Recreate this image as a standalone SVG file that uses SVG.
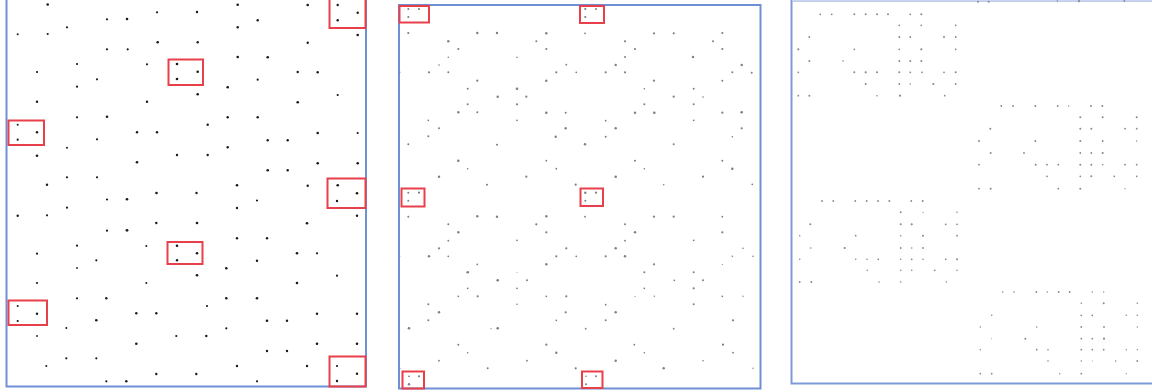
<svg xmlns="http://www.w3.org/2000/svg" width="1152" height="392" viewBox="0 0 1152 392">
<style>
.frame{fill:none;stroke:#6f8fd6;stroke-width:2}
.sel{fill:none;stroke:#e8404a;stroke-width:2}
.d1 circle{fill:#1a1a1a}
.d2 circle{fill:#7f7f7f}
.d3 circle{fill:#8a8a8a}
</style>
<rect width="1152" height="392" fill="#ffffff"/>
<g id="panel1">
<path class="frame" d="M6.5,0 V386.5 H366 V0"/>
<g class="d1">
<circle cx="47.7" cy="4.5" r="1.3"/><circle cx="237.7" cy="4.7" r="1.3"/><circle cx="307.7" cy="5" r="1.3"/><circle cx="337.7" cy="5" r="1.2"/>
<circle cx="357.7" cy="12.7" r="1.2"/><circle cx="337.7" cy="20.3" r="1.2"/><circle cx="107" cy="19.3" r="1.1"/><circle cx="127" cy="19" r="1.3"/>
<circle cx="157" cy="12.3" r="1.1"/><circle cx="197" cy="12" r="1.2"/><circle cx="257.7" cy="20.3" r="1.2"/><circle cx="67" cy="27.3" r="1.1"/>
<circle cx="237.7" cy="27.3" r="1.2"/><circle cx="17.7" cy="34.3" r="1"/><circle cx="47.7" cy="34" r="1.1"/><circle cx="357.7" cy="35" r="1.3"/>
<circle cx="157.7" cy="42.3" r="1.3"/><circle cx="197.7" cy="42.3" r="1.2"/><circle cx="307.7" cy="42.7" r="1.2"/><circle cx="107" cy="49.3" r="1.1"/>
<circle cx="127.7" cy="49.3" r="1.1"/><circle cx="237.7" cy="57" r="1.3"/><circle cx="267.7" cy="57.3" r="1.3"/><circle cx="77" cy="64" r="1.1"/>
<circle cx="147" cy="64.3" r="1.1"/><circle cx="177" cy="64" r="1.3"/><circle cx="197.7" cy="71.7" r="1.3"/><circle cx="177" cy="79" r="1.3"/>
<circle cx="37" cy="72" r="1.1"/><circle cx="97" cy="79.3" r="1.1"/><circle cx="297.7" cy="72" r="1.2"/><circle cx="317.7" cy="72.3" r="1.2"/>
<circle cx="257.7" cy="79.7" r="1.1"/><circle cx="77" cy="86.7" r="1.1"/><circle cx="227.7" cy="87.3" r="1.3"/><circle cx="197.7" cy="94.3" r="1.3"/>
<circle cx="337.7" cy="95" r="1.1"/><circle cx="37" cy="101.7" r="1.2"/><circle cx="147" cy="101.7" r="1.2"/><circle cx="297.7" cy="102.3" r="1.3"/>
<circle cx="77" cy="117.3" r="1.1"/><circle cx="107" cy="116.7" r="1.3"/><circle cx="227.7" cy="117.3" r="1.2"/><circle cx="257.7" cy="117.3" r="1.2"/>
<circle cx="17.7" cy="124.7" r="1"/><circle cx="207.7" cy="124.7" r="1.2"/><circle cx="37" cy="132.3" r="1.2"/><circle cx="137" cy="132.3" r="1.2"/>
<circle cx="157" cy="132.3" r="1.2"/><circle cx="317.7" cy="133" r="1.3"/><circle cx="357.7" cy="133" r="1.1"/><circle cx="17.7" cy="139.7" r="1.1"/>
<circle cx="97" cy="139.3" r="1.1"/><circle cx="267.7" cy="140.3" r="1.2"/><circle cx="287.7" cy="140.3" r="1.2"/><circle cx="67" cy="147.7" r="1"/>
<circle cx="227.7" cy="147.3" r="1.2"/><circle cx="37" cy="155.7" r="1.3"/><circle cx="177" cy="155" r="1.2"/><circle cx="207.7" cy="155" r="1.2"/>
<circle cx="137" cy="162.3" r="1.3"/><circle cx="317.7" cy="163.3" r="1.3"/><circle cx="357.7" cy="163.3" r="1.3"/><circle cx="267.7" cy="170.3" r="1.3"/>
<circle cx="287.7" cy="170.3" r="1.2"/><circle cx="67" cy="177.3" r="1.1"/><circle cx="97" cy="177.3" r="1.1"/><circle cx="47" cy="184.7" r="1.2"/>
<circle cx="237" cy="185.3" r="1.3"/><circle cx="307.7" cy="185.7" r="1.2"/><circle cx="337.7" cy="185.3" r="1.3"/>
<circle cx="156.5" cy="193" r="1.3"/><circle cx="196.5" cy="193" r="1.2"/><circle cx="357" cy="193.3" r="1.3"/><circle cx="107" cy="199.5" r="1.1"/>
<circle cx="127" cy="199.3" r="1.3"/><circle cx="257" cy="200.5" r="1.1"/><circle cx="337" cy="201" r="1.2"/>
<circle cx="67" cy="207.7" r="1.1"/><circle cx="237" cy="208" r="1.2"/><circle cx="17.7" cy="215.7" r="1.2"/><circle cx="47" cy="215.3" r="1.1"/>
<circle cx="357" cy="215.7" r="1.2"/><circle cx="156.3" cy="223" r="1.2"/><circle cx="197" cy="223" r="1.3"/><circle cx="307" cy="223.3" r="1.3"/>
<circle cx="107" cy="230.7" r="1.1"/><circle cx="127" cy="230.3" r="1.4"/><circle cx="237" cy="238.3" r="1.2"/><circle cx="267" cy="238.3" r="1.2"/>
<circle cx="77" cy="245.7" r="1.1"/><circle cx="146.3" cy="246" r="1"/><circle cx="177" cy="245.7" r="1.3"/><circle cx="197" cy="253.3" r="1.3"/>
<circle cx="177" cy="260.3" r="1.2"/><circle cx="37" cy="253.7" r="1.1"/><circle cx="96.3" cy="260.3" r="1.1"/><circle cx="297" cy="253.3" r="1.3"/>
<circle cx="317" cy="253.3" r="1.1"/><circle cx="257" cy="260.7" r="1.2"/><circle cx="77" cy="268" r="0.9"/><circle cx="226.3" cy="268.3" r="1.3"/>
<circle cx="197" cy="275.3" r="1.3"/><circle cx="337" cy="275.7" r="1.1"/><circle cx="37" cy="283" r="1.1"/><circle cx="146.3" cy="283" r="1"/>
<circle cx="297" cy="283" r="1.3"/><circle cx="77" cy="298.3" r="1.1"/><circle cx="106.3" cy="298.3" r="1.2"/><circle cx="226.3" cy="298.3" r="1.3"/>
<circle cx="257" cy="298.3" r="1.3"/><circle cx="17.7" cy="306" r="1"/><circle cx="37" cy="313.7" r="1.2"/><circle cx="17.7" cy="321" r="1.1"/>
<circle cx="207" cy="306" r="1.1"/><circle cx="136.3" cy="313.3" r="1.2"/><circle cx="156.3" cy="313.3" r="1.2"/><circle cx="317" cy="313.7" r="1.2"/>
<circle cx="357" cy="313.7" r="1.2"/><circle cx="96.3" cy="320.3" r="1.3"/><circle cx="267" cy="320.7" r="1.3"/><circle cx="287" cy="320.7" r="1.2"/>
<circle cx="66.3" cy="328" r="1"/><circle cx="226.3" cy="328.3" r="1.1"/><circle cx="37" cy="336" r="0.9"/><circle cx="176.3" cy="336" r="1.1"/>
<circle cx="206.3" cy="336" r="1.2"/><circle cx="136.3" cy="343.7" r="1.3"/><circle cx="317" cy="343.7" r="1.3"/><circle cx="357" cy="343.7" r="1.3"/>
<circle cx="267" cy="351" r="1.2"/><circle cx="287" cy="351" r="1.2"/><circle cx="66.3" cy="358.3" r="1.1"/><circle cx="96.3" cy="358.3" r="1.1"/>
<circle cx="46.3" cy="366" r="1"/><circle cx="237" cy="366" r="1.2"/><circle cx="307" cy="366" r="1.2"/><circle cx="337" cy="366" r="1.1"/>
<circle cx="357" cy="373.7" r="1.2"/><circle cx="156.3" cy="374" r="1.2"/><circle cx="196.3" cy="374" r="1.2"/><circle cx="106.3" cy="381.3" r="1.1"/>
<circle cx="126.3" cy="381.3" r="1.2"/><circle cx="257" cy="381.3" r="1.1"/><circle cx="337" cy="381" r="1.2"/>
</g>
<rect class="sel" x="329.5" y="-2" width="36" height="30"/>
<rect class="sel" x="168.5" y="59.5" width="34.5" height="25.5"/>
<rect class="sel" x="8.5" y="120.5" width="35.5" height="24.5"/>
<rect class="sel" x="327.5" y="178.5" width="38" height="29.5"/>
<rect class="sel" x="167.5" y="242" width="35" height="22"/>
<rect class="sel" x="8.5" y="300.5" width="38.5" height="24.5"/>
<rect class="sel" x="329.5" y="356.5" width="36" height="30"/>
</g>
<g id="panel2">
<rect class="frame" x="399" y="5" width="361.5" height="383.5"/>
<g class="d2">
<circle cx="408.3" cy="9" r="1"/><circle cx="419" cy="9" r="1.1"/><circle cx="408.3" cy="17" r="1"/>
<circle cx="585.3" cy="9" r="1.1"/><circle cx="596" cy="9" r="1"/><circle cx="585.3" cy="17" r="1.1"/>
<circle cx="408.3" cy="33" r="1.1"/><circle cx="477.3" cy="33" r="1.2"/><circle cx="497" cy="33" r="1.2"/><circle cx="546.3" cy="33.3" r="1.2"/>
<circle cx="585" cy="33.3" r="0.9"/><circle cx="654" cy="33.3" r="1.1"/><circle cx="673.7" cy="33.3" r="1.1"/><circle cx="722.3" cy="33" r="1.1"/>
<circle cx="448.3" cy="41.3" r="1.2"/><circle cx="536.3" cy="41.3" r="1"/><circle cx="625" cy="41.3" r="1.1"/><circle cx="713" cy="41.3" r="1"/>
<circle cx="458.3" cy="49" r="1.1"/><circle cx="546.3" cy="49" r="1.1"/><circle cx="635" cy="49" r="1.1"/><circle cx="722.3" cy="49" r="1.1"/>
<circle cx="448.3" cy="57.3" r="0.8"/><circle cx="517" cy="57.3" r="0.8"/><circle cx="625" cy="57" r="1"/><circle cx="693" cy="57" r="1.2"/>
<circle cx="439" cy="65" r="0.8"/><circle cx="566.3" cy="64.7" r="0.9"/><circle cx="615.7" cy="65" r="1.2"/><circle cx="741.7" cy="65" r="1.2"/>
<circle cx="399.7" cy="72.3" r="0.8"/><circle cx="429" cy="72.3" r="1.1"/><circle cx="448.3" cy="72.3" r="1"/><circle cx="556.3" cy="72.3" r="1.1"/>
<circle cx="576.3" cy="72.3" r="0.9"/><circle cx="605.7" cy="72.3" r="1.1"/><circle cx="625" cy="72.3" r="1.1"/><circle cx="732.3" cy="72.3" r="1"/><circle cx="751.7" cy="72.7" r="1"/>
<circle cx="477.3" cy="80.7" r="1.1"/><circle cx="546.3" cy="80.7" r="1.2"/><circle cx="654" cy="80.7" r="1.1"/><circle cx="722.3" cy="80.7" r="1"/>
<circle cx="467.7" cy="88.7" r="1"/><circle cx="517" cy="88.7" r="1.3"/><circle cx="644.3" cy="88.7" r="0.8"/><circle cx="693.7" cy="88.7" r="1"/>
<circle cx="497.7" cy="96.7" r="1.2"/><circle cx="526.3" cy="96.7" r="1.1"/><circle cx="673.7" cy="96.7" r="1.1"/><circle cx="703" cy="97" r="0.8"/>
<circle cx="467.7" cy="104.3" r="1"/><circle cx="517" cy="104.3" r="1.1"/><circle cx="644.3" cy="104.3" r="1"/><circle cx="693.7" cy="104.3" r="1"/>
<circle cx="458.3" cy="112.3" r="1.2"/><circle cx="477.3" cy="112.3" r="1"/><circle cx="546.3" cy="112.7" r="1.3"/><circle cx="565.7" cy="112.7" r="1"/>
<circle cx="635" cy="112.7" r="1.2"/><circle cx="654.3" cy="112.7" r="1.3"/><circle cx="722.3" cy="112.7" r="1.1"/><circle cx="741.7" cy="112.3" r="1.3"/>
<circle cx="428.3" cy="120.3" r="0.9"/><circle cx="517" cy="120.3" r="0.9"/><circle cx="605.7" cy="120.7" r="0.9"/><circle cx="693.7" cy="120.3" r="0.9"/>
<circle cx="439" cy="128.3" r="1"/><circle cx="565.7" cy="128.3" r="1.2"/><circle cx="615.7" cy="128.3" r="1.2"/><circle cx="741.7" cy="128.3" r="1.1"/>
<circle cx="428.3" cy="136.3" r="1"/><circle cx="555.7" cy="136.7" r="1.2"/><circle cx="605.7" cy="136.7" r="1"/><circle cx="732.3" cy="136.7" r="0.8"/>
<circle cx="408.3" cy="144.3" r="1"/><circle cx="497" cy="144.7" r="1"/><circle cx="585" cy="144.3" r="1.2"/><circle cx="673.7" cy="144.3" r="1"/>
<circle cx="458.3" cy="160.7" r="1.3"/><circle cx="546.3" cy="160.7" r="0.9"/><circle cx="635" cy="160.7" r="1"/><circle cx="722.3" cy="160.7" r="1"/>
<circle cx="467.7" cy="168.7" r="0.8"/><circle cx="556.3" cy="168.7" r="0.9"/><circle cx="644.3" cy="168.7" r="0.8"/><circle cx="732.3" cy="168.7" r="1.3"/>
<circle cx="439" cy="176.7" r="1.2"/><circle cx="526.3" cy="176.7" r="1.1"/><circle cx="615.7" cy="176.7" r="1.3"/><circle cx="703" cy="176.7" r="1.1"/>
<circle cx="487" cy="184.7" r="1"/><circle cx="575.7" cy="184.7" r="1.1"/><circle cx="663.7" cy="184.7" r="0.8"/><circle cx="752.3" cy="184.3" r="0.9"/>
<circle cx="408.3" cy="192.7" r="1"/><circle cx="419" cy="192.7" r="1.1"/><circle cx="408.3" cy="200.7" r="1"/>
<circle cx="585.3" cy="192.7" r="1.2"/><circle cx="596" cy="192.7" r="1.1"/><circle cx="585.3" cy="200.7" r="1"/>
<circle cx="408.3" cy="216.7" r="1"/><circle cx="477.3" cy="216.3" r="1.2"/><circle cx="497" cy="216.7" r="1.2"/><circle cx="546.3" cy="216.3" r="1.2"/>
<circle cx="585" cy="216.7" r="0.9"/><circle cx="654" cy="216.7" r="1.1"/><circle cx="673.7" cy="216.7" r="1.1"/><circle cx="722.3" cy="216.7" r="0.9"/>
<circle cx="448.3" cy="224.3" r="1"/><circle cx="536.3" cy="224.3" r="1.1"/><circle cx="625" cy="224.3" r="1"/>
<circle cx="458.3" cy="232.3" r="1.2"/><circle cx="546.3" cy="232.3" r="1.1"/><circle cx="635" cy="232.3" r="1.2"/><circle cx="722.3" cy="232.3" r="1.1"/>
<circle cx="448.3" cy="240.7" r="0.9"/><circle cx="517" cy="240.3" r="0.9"/><circle cx="625" cy="240.7" r="0.9"/><circle cx="693.7" cy="240.3" r="0.9"/>
<circle cx="439" cy="248.3" r="1.1"/><circle cx="566.3" cy="248.3" r="1.1"/><circle cx="615.7" cy="248.3" r="1.2"/><circle cx="743" cy="248.3" r="0.8"/>
<circle cx="399.7" cy="256.3" r="0.7"/><circle cx="429" cy="256.3" r="1.2"/><circle cx="448.3" cy="256.3" r="0.9"/><circle cx="556.3" cy="256.3" r="1.1"/>
<circle cx="576.3" cy="256.3" r="0.9"/><circle cx="605.7" cy="256.3" r="1.1"/><circle cx="625" cy="256.3" r="1.2"/><circle cx="732.3" cy="256.3" r="0.8"/><circle cx="753" cy="256.3" r="0.8"/>
<circle cx="477.3" cy="264.3" r="0.9"/><circle cx="546.3" cy="264.3" r="1.2"/><circle cx="654" cy="264.3" r="1.1"/><circle cx="722.3" cy="264.3" r="0.6"/>
<circle cx="467.7" cy="272.3" r="1.3"/><circle cx="517" cy="272.3" r="0.5"/><circle cx="644.3" cy="272.3" r="1"/><circle cx="693.7" cy="272.3" r="1"/>
<circle cx="497.7" cy="280.3" r="1.3"/><circle cx="527" cy="280.3" r="1"/><circle cx="674.3" cy="280.3" r="0.9"/><circle cx="703" cy="280.3" r="1"/>
<circle cx="467.7" cy="288.3" r="0.9"/><circle cx="517" cy="288.3" r="0.9"/><circle cx="644.3" cy="288.3" r="0.9"/><circle cx="693.7" cy="288.3" r="1.1"/>
<circle cx="458.3" cy="296.3" r="0.9"/><circle cx="477.7" cy="296.3" r="1.1"/><circle cx="546.3" cy="296.3" r="0.9"/><circle cx="566.3" cy="296.3" r="1.1"/>
<circle cx="635" cy="296.3" r="0.6"/><circle cx="654.3" cy="296.3" r="0.7"/><circle cx="722.3" cy="296.3" r="0.9"/><circle cx="743" cy="296.3" r="0.7"/>
<circle cx="428.3" cy="304.3" r="1"/><circle cx="517" cy="304.3" r="0.8"/><circle cx="605.7" cy="304.7" r="0.9"/><circle cx="693.7" cy="304.3" r="1"/>
<circle cx="439" cy="312.3" r="1.2"/><circle cx="565.7" cy="312.3" r="1.1"/><circle cx="615.7" cy="312.3" r="1.2"/>
<circle cx="428.3" cy="320.3" r="1"/><circle cx="556.3" cy="320.3" r="0.9"/><circle cx="605.7" cy="320.3" r="1"/><circle cx="733" cy="320.3" r="1.1"/>
<circle cx="409" cy="328.3" r="1.3"/><circle cx="497.7" cy="328.3" r="1.3"/><circle cx="491" cy="328.7" r="0.6"/><circle cx="585.7" cy="328.7" r="0.9"/><circle cx="673.7" cy="328.7" r="0.9"/>
<circle cx="458.3" cy="344.7" r="1"/><circle cx="546.3" cy="344.7" r="1.1"/><circle cx="634.3" cy="344.7" r="0.9"/><circle cx="723" cy="344.7" r="1.1"/>
<circle cx="467.7" cy="352.7" r="0.8"/><circle cx="556.3" cy="352.7" r="1.2"/><circle cx="644.3" cy="352.7" r="0.8"/><circle cx="733" cy="352.7" r="0.9"/>
<circle cx="439" cy="360.7" r="0.9"/><circle cx="527" cy="360.7" r="0.9"/><circle cx="615.7" cy="360.7" r="1.2"/><circle cx="703" cy="360.7" r="0.8"/>
<circle cx="487.7" cy="368.3" r="1"/><circle cx="575.7" cy="368.3" r="1.1"/><circle cx="663.7" cy="368.3" r="1.2"/><circle cx="753" cy="368.3" r="0.7"/><circle cx="400" cy="368.3" r="0.6"/>
<circle cx="409" cy="376.3" r="0.9"/><circle cx="419" cy="376.3" r="1.1"/><circle cx="409" cy="384.3" r="1.2"/>
<circle cx="586" cy="376.3" r="0.8"/><circle cx="596" cy="376.3" r="1"/><circle cx="586" cy="384.3" r="1"/>
</g>
<rect class="sel" x="399.5" y="6" width="29.5" height="16.5"/>
<rect class="sel" x="580" y="6" width="24" height="17"/>
<rect class="sel" x="401.5" y="188.5" width="23" height="18"/>
<rect class="sel" x="580.5" y="188.5" width="22.5" height="17.5"/>
<rect class="sel" x="402.5" y="371.5" width="21.5" height="17"/>
<rect class="sel" x="582" y="371.5" width="20.5" height="16.5"/>
</g>
<g id="panel3">
<path class="frame" d="M1152,0.5 H791.5 V383.5 H1152" style="stroke:#7e9bd8"/>
<path d="M792,0.5 H1152" fill="none" stroke="#c9d5f0" stroke-width="1.5"/>
<g class="d3">
<circle cx="978" cy="1.7" r="1"/><circle cx="988.7" cy="1.7" r="1"/><circle cx="1057.3" cy="1" r="0.8"/><circle cx="1079" cy="1.2" r="1.1"/><circle cx="1124.3" cy="1" r="0.9"/>
<circle cx="820.3" cy="14.3" r="0.9"/><circle cx="831.7" cy="14.3" r="0.9"/><circle cx="854.3" cy="14.3" r="1"/><circle cx="865.7" cy="14.3" r="1"/><circle cx="877" cy="14.3" r="1"/><circle cx="888" cy="14.3" r="1"/><circle cx="910.3" cy="14.3" r="0.9"/><circle cx="921.3" cy="14.3" r="1"/>
<circle cx="899.3" cy="25.3" r="0.9"/><circle cx="921.3" cy="25.3" r="0.9"/><circle cx="955.7" cy="25.3" r="0.9"/>
<circle cx="809.3" cy="37" r="0.9"/><circle cx="899.3" cy="37" r="1"/><circle cx="910.3" cy="37" r="0.9"/><circle cx="944" cy="37" r="1"/><circle cx="955.7" cy="37" r="0.9"/>
<circle cx="798.3" cy="49.3" r="1.1"/><circle cx="854.3" cy="49.3" r="0.9"/><circle cx="899.3" cy="49.3" r="0.9"/><circle cx="921.3" cy="49.3" r="1.1"/><circle cx="955.7" cy="49.3" r="0.9"/>
<circle cx="809.3" cy="61" r="1"/><circle cx="843" cy="61" r="0.8"/><circle cx="899.3" cy="61" r="1"/><circle cx="910.3" cy="61" r="1"/><circle cx="921.3" cy="61" r="1"/>
<circle cx="798.3" cy="72.3" r="0.9"/><circle cx="854.3" cy="72.3" r="1"/><circle cx="865.7" cy="72.3" r="1.1"/><circle cx="877" cy="72.3" r="1"/><circle cx="899.3" cy="72.3" r="1"/><circle cx="910.3" cy="72.3" r="0.9"/><circle cx="922" cy="72.3" r="0.9"/><circle cx="944" cy="72.3" r="0.9"/><circle cx="955.7" cy="72.3" r="1"/>
<circle cx="865.7" cy="84" r="1"/><circle cx="899.3" cy="84" r="0.9"/><circle cx="910.3" cy="84" r="0.8"/><circle cx="933.3" cy="84" r="1.1"/><circle cx="955.7" cy="84" r="0.9"/>
<circle cx="798.3" cy="95.7" r="0.9"/><circle cx="809.3" cy="95.7" r="1"/><circle cx="877" cy="95.7" r="0.8"/><circle cx="900" cy="95.7" r="1.1"/><circle cx="944.7" cy="95.7" r="0.9"/>
<circle cx="1001.3" cy="106" r="0.9"/><circle cx="1013" cy="106" r="0.9"/><circle cx="1035.3" cy="106" r="1"/><circle cx="1057.7" cy="106" r="0.9"/><circle cx="1068.7" cy="106" r="0.7"/><circle cx="1091" cy="106" r="1"/><circle cx="1102.3" cy="106" r="1"/>
<circle cx="1080.3" cy="117.3" r="1"/><circle cx="1102.7" cy="117.3" r="1"/><circle cx="1136.7" cy="117.3" r="1"/>
<circle cx="990.3" cy="128.7" r="1"/><circle cx="1080.3" cy="128.7" r="1"/><circle cx="1091.3" cy="128.7" r="1"/><circle cx="1125" cy="128.7" r="0.9"/><circle cx="1136.7" cy="128.7" r="0.9"/>
<circle cx="979" cy="141" r="1"/><circle cx="1035.3" cy="141" r="1"/><circle cx="1080.3" cy="141" r="1"/><circle cx="1102.7" cy="141" r="0.9"/><circle cx="1136.7" cy="141" r="0.7"/>
<circle cx="990.7" cy="153" r="1"/><circle cx="1024" cy="153" r="0.9"/><circle cx="1080.3" cy="153" r="0.9"/><circle cx="1091.3" cy="153" r="0.9"/><circle cx="1102.7" cy="153" r="1.1"/>
<circle cx="979" cy="164.7" r="0.9"/><circle cx="1035.7" cy="164.7" r="1"/><circle cx="1047" cy="164.7" r="0.9"/><circle cx="1058.3" cy="164.7" r="0.9"/><circle cx="1080.3" cy="164.7" r="1"/><circle cx="1091.3" cy="164.7" r="1"/><circle cx="1102.7" cy="164.7" r="0.8"/><circle cx="1125" cy="164.7" r="0.9"/><circle cx="1136.7" cy="164.7" r="0.9"/>
<circle cx="1047" cy="176.3" r="0.9"/><circle cx="1080.3" cy="176.3" r="0.9"/><circle cx="1091.3" cy="176.3" r="1"/><circle cx="1114.3" cy="176.3" r="0.9"/><circle cx="1136.7" cy="176.3" r="0.9"/>
<circle cx="979" cy="188.7" r="0.9"/><circle cx="990.7" cy="188.7" r="1"/><circle cx="1058.3" cy="188.7" r="0.9"/><circle cx="1080.3" cy="188.7" r="1"/><circle cx="1125" cy="188.7" r="0.6"/>
<circle cx="822" cy="201" r="0.9"/><circle cx="833.3" cy="201" r="0.9"/><circle cx="855.3" cy="201" r="0.9"/><circle cx="866.7" cy="201" r="0.9"/><circle cx="878" cy="201" r="0.9"/><circle cx="889.3" cy="201" r="1"/><circle cx="911.3" cy="201" r="0.9"/><circle cx="922.7" cy="201" r="1"/>
<circle cx="900.7" cy="212.3" r="1"/><circle cx="923" cy="212.3" r="0.6"/><circle cx="957" cy="212.3" r="0.8"/>
<circle cx="810.3" cy="224.3" r="1"/><circle cx="900.7" cy="224.3" r="1"/><circle cx="911.7" cy="224.3" r="1.1"/><circle cx="945.7" cy="224.3" r="0.9"/><circle cx="957" cy="224.3" r="0.9"/>
<circle cx="799.7" cy="235.7" r="0.8"/><circle cx="855.7" cy="235.7" r="0.9"/><circle cx="900.7" cy="235.7" r="0.8"/><circle cx="923" cy="235.7" r="1"/><circle cx="957" cy="235.7" r="0.9"/>
<circle cx="810.7" cy="248" r="0.8"/><circle cx="844.7" cy="248" r="1.1"/><circle cx="900.7" cy="248" r="0.9"/><circle cx="911.7" cy="248" r="0.8"/><circle cx="923" cy="248" r="0.9"/>
<circle cx="799.7" cy="259.3" r="0.8"/><circle cx="855.7" cy="259.3" r="0.8"/><circle cx="867" cy="259.3" r="0.8"/><circle cx="878.3" cy="259.3" r="0.9"/><circle cx="900.7" cy="259.3" r="0.8"/><circle cx="911.7" cy="259.3" r="0.9"/><circle cx="923" cy="259.3" r="0.8"/><circle cx="945.7" cy="259.3" r="0.9"/><circle cx="957" cy="259.3" r="1"/>
<circle cx="867.3" cy="270.3" r="0.8"/><circle cx="900.7" cy="270.3" r="0.8"/><circle cx="911.7" cy="270.3" r="0.8"/><circle cx="934.7" cy="270.3" r="0.9"/><circle cx="957" cy="270.3" r="0.8"/>
<circle cx="799.7" cy="282" r="0.9"/><circle cx="811.3" cy="282" r="1"/><circle cx="879" cy="282" r="0.8"/><circle cx="900.7" cy="282" r="0.8"/><circle cx="946.3" cy="282" r="0.8"/>
<circle cx="1002.7" cy="292" r="0.8"/><circle cx="1014" cy="292" r="0.8"/><circle cx="1036.3" cy="292" r="0.9"/><circle cx="1047.3" cy="292" r="0.8"/><circle cx="1058.7" cy="292" r="0.9"/><circle cx="1069.7" cy="292" r="0.9"/><circle cx="1092.3" cy="292" r="0.7"/><circle cx="1103.7" cy="292" r="0.7"/>
<circle cx="1081.3" cy="303.3" r="0.8"/><circle cx="1103.7" cy="303.3" r="1"/><circle cx="1137.3" cy="303.3" r="0.8"/>
<circle cx="991.7" cy="315.3" r="0.8"/><circle cx="1081.3" cy="315.3" r="0.9"/><circle cx="1092.3" cy="315.3" r="0.9"/><circle cx="1126.3" cy="315.3" r="0.8"/><circle cx="1137.3" cy="315.3" r="0.8"/>
<circle cx="980.3" cy="327" r="0.8"/><circle cx="1036.7" cy="327" r="0.8"/><circle cx="1081.3" cy="327" r="0.9"/><circle cx="1104" cy="327" r="0.9"/><circle cx="1137.3" cy="327" r="0.7"/>
<circle cx="991.7" cy="338.7" r="0.5"/><circle cx="1025.3" cy="338.7" r="1"/><circle cx="1081.3" cy="338.7" r="0.9"/><circle cx="1092.3" cy="338.7" r="0.9"/><circle cx="1104" cy="338.7" r="1.1"/>
<circle cx="980.3" cy="349.7" r="0.8"/><circle cx="1036.7" cy="349.7" r="0.9"/><circle cx="1048" cy="349.7" r="0.8"/><circle cx="1081.3" cy="349.7" r="0.9"/><circle cx="1092.3" cy="349.7" r="0.9"/><circle cx="1103.7" cy="349.7" r="0.9"/><circle cx="1126.3" cy="349.7" r="0.7"/><circle cx="1137.3" cy="349.7" r="0.7"/>
<circle cx="1048" cy="361" r="0.8"/><circle cx="1081.3" cy="361" r="0.8"/><circle cx="1092.3" cy="361" r="0.5"/><circle cx="1115.7" cy="361" r="0.8"/><circle cx="1137.3" cy="361" r="0.9"/>
<circle cx="980.3" cy="373.7" r="0.9"/><circle cx="991.7" cy="373.7" r="0.9"/><circle cx="1059.7" cy="373.7" r="0.7"/><circle cx="1081.3" cy="373.7" r="0.9"/><circle cx="1126.3" cy="373.7" r="0.6"/>
</g>
</g>
</svg>
